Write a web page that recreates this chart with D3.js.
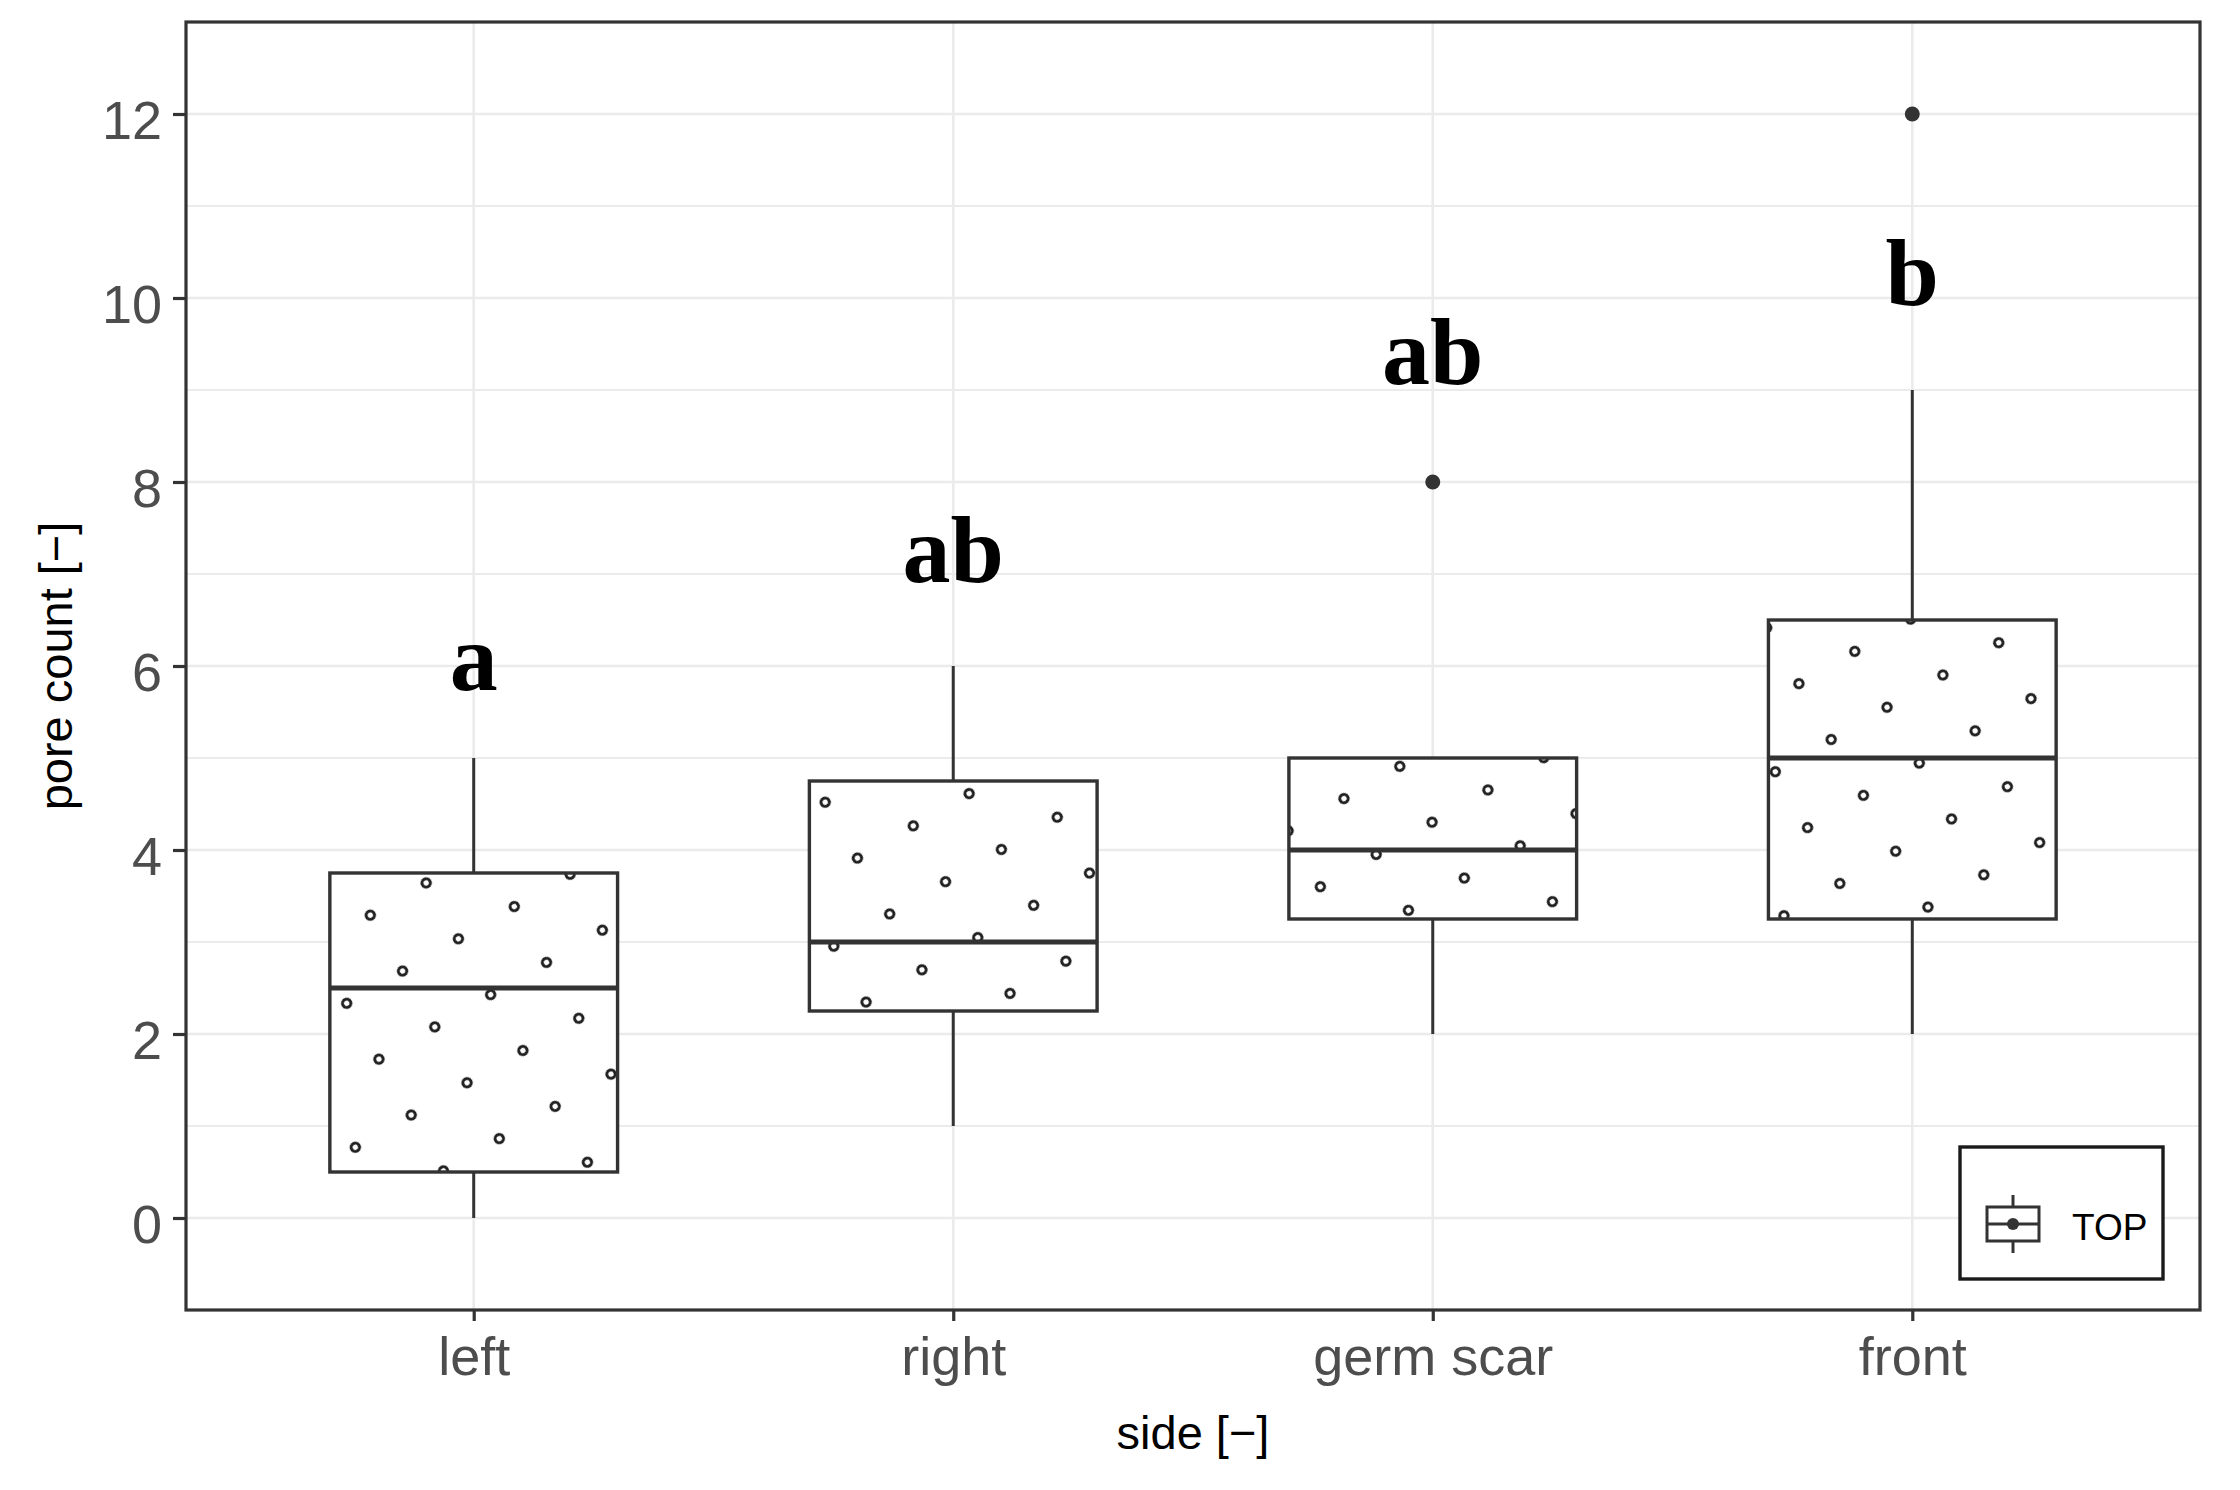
<!DOCTYPE html>
<html>
<head>
<meta charset="utf-8">
<script src="https://cdn.jsdelivr.net/npm/d3@7/dist/d3.min.js"></script>
<style>
  html, body { margin: 0; padding: 0; background: #fff; }
  svg { display: block; }
</style>
</head>
<body>
<svg id="chart" width="2240" height="1490"></svg>
<script>
// ---------------- data ----------------
const categories   = ["left", "right", "germ scar", "front"];
const lowerWhisker = [0, 1, 2, 2];
const q1           = [0.5, 2.25, 3.25, 3.25];
const medians      = [2.5, 3, 4, 5];
const q3           = [3.75, 4.75, 5, 6.5];
const upperWhisker = [5, 6, 5, 9];
const outliers     = [[], [], [8], [12]];
const groupLetters = ["a", "ab", "ab", "b"];
const letterY      = [5.74, 6.91, 9.07, 9.92];
const yTicks       = [0, 2, 4, 6, 8, 10, 12];
const yMinor       = [1, 3, 5, 7, 9, 11];
const yDomain      = [-1, 13];
const legendLabel  = "TOP";
const xTitle       = "side [\u2212]";
const yTitle       = "pore count [\u2212]";

// ---------------- style ----------------
const panel = { left: 186, right: 2200, top: 22, bottom: 1310 };
const dark = "#333333";
const gridCol = "#EBEBEB";
const tickTextCol = "#4D4D4D";
const dotSpacing = 64.5;
// texture phase of the dot pattern relative to each box centre (px)
const hatchPhase = [[-15.3, -83.7], [-7.7, -14.3], [-0.7, -16.3], [7, -6.4]];

const svg = d3.select("#chart");
const defs = svg.append("defs");

const x = d3.scalePoint().domain(categories).range([panel.left, panel.right]).padding(0.6);
const y = d3.scaleLinear().domain(yDomain).range([panel.bottom, panel.top]);
const boxW = x.step() * 0.6;

const rows = categories.map((c, i) => ({
  cat: c, i, lo: lowerWhisker[i], q1: q1[i], med: medians[i], q3: q3[i], hi: upperWhisker[i],
  out: outliers[i], letter: groupLetters[i], ly: letterY[i]
}));

// background
svg.append("rect").attr("x", 0).attr("y", 0).attr("width", 2240).attr("height", 1490).attr("fill", "#fff");

// gridlines
const grid = svg.append("g");
grid.selectAll("line.minor").data(yMinor).join("line")
  .attr("x1", panel.left).attr("x2", panel.right)
  .attr("y1", d => y(d)).attr("y2", d => y(d))
  .attr("stroke", gridCol).attr("stroke-width", 2.2);
grid.selectAll("line.major").data(yTicks).join("line")
  .attr("x1", panel.left).attr("x2", panel.right)
  .attr("y1", d => y(d)).attr("y2", d => y(d))
  .attr("stroke", gridCol).attr("stroke-width", 2.6);
grid.selectAll("line.vert").data(categories).join("line")
  .attr("x1", d => x(d)).attr("x2", d => x(d))
  .attr("y1", panel.top).attr("y2", panel.bottom)
  .attr("stroke", gridCol).attr("stroke-width", 2.6);

// dot patterns (one per box so phase follows the box)
rows.forEach(r => {
  const cx = x(r.cat) + hatchPhase[r.i][0];
  const cy = (y(r.q1) + y(r.q3)) / 2 + hatchPhase[r.i][1];
  const p = defs.append("pattern")
    .attr("id", "dots" + r.i)
    .attr("patternUnits", "userSpaceOnUse")
    .attr("width", dotSpacing).attr("height", dotSpacing)
    .attr("patternTransform", `translate(${cx},${cy}) rotate(-30) translate(${-dotSpacing/2},${-dotSpacing/2})`);
  p.append("circle").attr("cx", dotSpacing/2).attr("cy", dotSpacing/2).attr("r", 4.2)
    .attr("fill", "#fff").attr("stroke", "#1f1f1f").attr("stroke-width", 3);
});

// boxplots
const boxes = svg.append("g").selectAll("g").data(rows).join("g");
boxes.append("line")
  .attr("x1", d => x(d.cat)).attr("x2", d => x(d.cat))
  .attr("y1", d => y(d.hi)).attr("y2", d => y(d.q3))
  .attr("stroke", dark).attr("stroke-width", 3);
boxes.append("line")
  .attr("x1", d => x(d.cat)).attr("x2", d => x(d.cat))
  .attr("y1", d => y(d.q1)).attr("y2", d => y(d.lo))
  .attr("stroke", dark).attr("stroke-width", 3);
boxes.append("rect")
  .attr("x", d => x(d.cat) - boxW/2).attr("width", boxW)
  .attr("y", d => y(d.q3)).attr("height", d => y(d.q1) - y(d.q3))
  .attr("fill", "#fff");
boxes.append("rect")
  .attr("x", d => x(d.cat) - boxW/2).attr("width", boxW)
  .attr("y", d => y(d.q3)).attr("height", d => y(d.q1) - y(d.q3))
  .attr("fill", d => `url(#dots${d.i})`)
  .attr("stroke", dark).attr("stroke-width", 3.4);
boxes.append("line")
  .attr("x1", d => x(d.cat) - boxW/2).attr("x2", d => x(d.cat) + boxW/2)
  .attr("y1", d => y(d.med)).attr("y2", d => y(d.med))
  .attr("stroke", dark).attr("stroke-width", 5);
boxes.selectAll("circle.out").data(d => d.out.map(v => ({ cat: d.cat, v }))).join("circle")
  .attr("cx", d => x(d.cat)).attr("cy", d => y(d.v)).attr("r", 7.5)
  .attr("fill", dark);

// group letters
svg.append("g").selectAll("text").data(rows).join("text")
  .attr("x", d => x(d.cat)).attr("y", d => y(d.ly))
  .attr("text-anchor", "middle")
  .attr("font-family", "'Liberation Serif', 'Times New Roman', serif")
  .attr("font-weight", "bold").attr("font-size", 96).attr("fill", "#000")
  .text(d => d.letter);

// panel border
svg.append("rect")
  .attr("x", panel.left).attr("y", panel.top)
  .attr("width", panel.right - panel.left).attr("height", panel.bottom - panel.top)
  .attr("fill", "none").attr("stroke", dark).attr("stroke-width", 3.2);

// axes
const yAxis = svg.append("g").attr("transform", `translate(${panel.left},0)`)
  .call(d3.axisLeft(y).tickValues(yTicks).tickSize(13).tickPadding(11));
yAxis.select(".domain").remove();
yAxis.selectAll("line").attr("stroke", dark).attr("stroke-width", 3.2);
yAxis.selectAll("text").attr("font-family", "'Liberation Sans', Arial, sans-serif")
  .attr("font-size", 54).attr("fill", tickTextCol).attr("dy", "0.45em");

const xAxis = svg.append("g").attr("transform", `translate(0,${panel.bottom})`)
  .call(d3.axisBottom(x).tickSize(11).tickPadding(16));
xAxis.select(".domain").remove();
xAxis.selectAll("line").attr("stroke", dark).attr("stroke-width", 3.2);
xAxis.selectAll("text").attr("font-family", "'Liberation Sans', Arial, sans-serif")
  .attr("font-size", 54).attr("fill", tickTextCol);

// axis titles
svg.append("text")
  .attr("x", (panel.left + panel.right) / 2).attr("y", 1449)
  .attr("text-anchor", "middle")
  .attr("font-family", "'Liberation Sans', Arial, sans-serif")
  .attr("font-size", 47).attr("fill", "#000")
  .text(xTitle);
svg.append("text")
  .attr("transform", `translate(72,${(panel.top + panel.bottom) / 2}) rotate(-90)`)
  .attr("text-anchor", "middle")
  .attr("font-family", "'Liberation Sans', Arial, sans-serif")
  .attr("font-size", 47).attr("fill", "#000")
  .text(yTitle);

// legend
const lg = svg.append("g").attr("transform", "translate(1960,1147)");
lg.append("rect").attr("width", 203).attr("height", 132)
  .attr("fill", "#fff").attr("stroke", "#1a1a1a").attr("stroke-width", 3.4);
const kx = 53, kTop = 60, kBot = 94, kMid = 77;
lg.append("line").attr("x1", kx).attr("x2", kx).attr("y1", 48).attr("y2", kTop).attr("stroke", dark).attr("stroke-width", 3);
lg.append("line").attr("x1", kx).attr("x2", kx).attr("y1", kBot).attr("y2", 106).attr("stroke", dark).attr("stroke-width", 3);
lg.append("rect").attr("x", kx - 26).attr("y", kTop).attr("width", 52).attr("height", kBot - kTop)
  .attr("fill", "#fff").attr("stroke", dark).attr("stroke-width", 3);
lg.append("line").attr("x1", kx - 26).attr("x2", kx + 26).attr("y1", kMid).attr("y2", kMid)
  .attr("stroke", dark).attr("stroke-width", 3);
lg.append("circle").attr("cx", kx).attr("cy", kMid).attr("r", 6).attr("fill", dark);
lg.append("text").attr("x", 112).attr("y", 93)
  .attr("font-family", "'Liberation Sans', Arial, sans-serif")
  .attr("font-size", 37).attr("fill", "#000")
  .text(legendLabel);
</script>
</body>
</html>
